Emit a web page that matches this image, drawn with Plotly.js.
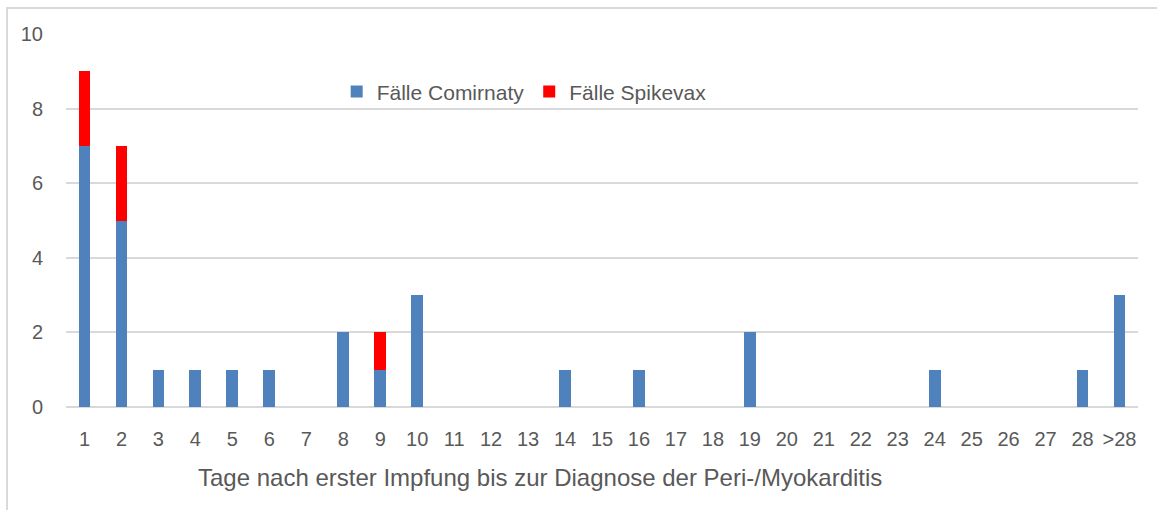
<!DOCTYPE html>
<html><head><meta charset="utf-8">
<script src="https://cdn.plot.ly/plotly-3.0.1.min.js"></script>
<style>html,body{margin:0;padding:0;background:#fff}#c{width:1157px;height:510px}</style>
</head><body><div id="c"></div>
<script>
const categories = ["1","2","3","4","5","6","7","8","9","10","11","12","13","14","15","16","17","18","19","20","21","22","23","24","25","26","27","28",">28"];
const comirnaty = [7,5,1,1,1,1,0,2,1,3,0,0,0,1,0,1,0,0,2,0,0,0,0,1,0,0,0,1,3];
const spikevax  = [2,2,0,0,0,0,0,0,1,0,0,0,0,0,0,0,0,0,0,0,0,0,0,0,0,0,0,0,0];
const yTicks = [0,2,4,6,8,10];
const xTitle = "Tage nach erster Impfung bis zur Diagnose der Peri-/Myokarditis";

const font = "Liberation Sans, Arial, sans-serif";
const data = [
  {type:"bar", name:"Fälle Comirnaty", x:categories, y:comirnaty, marker:{color:"#4f81bd"}},
  {type:"bar", name:"Fälle Spikevax", x:categories, y:spikevax, marker:{color:"#ff0000"}}
];
const layout = {
  width:1157, height:510,
  margin:{l:66, r:19, t:34, b:103},
  barmode:"stack", bargap:0.68,
  paper_bgcolor:"#fff", plot_bgcolor:"#fff",
  font:{family:font, color:"#595959", size:20},
  showlegend:true,
  legend:{orientation:"h", traceorder:"normal", x:0.2525, y:0.845, xanchor:"left", yanchor:"middle",
          font:{size:21, color:"#595959"}, itemwidth:30, tracegroupgap:0, bgcolor:"rgba(0,0,0,0)"},
  xaxis:{type:"category", tickvals:categories, ticktext:categories, showgrid:false, zeroline:false,
         showline:false, ticks:"", tickfont:{size:20}, ticklabelstandoff:18, fixedrange:true},
  yaxis:{range:[0,10], tickvals:yTicks, showgrid:true, gridcolor:"#d9d9d9", gridwidth:2,
         zeroline:true, zerolinecolor:"#d9d9d9", zerolinewidth:2, showline:false, ticks:"",
         ticklabelstandoff:22, tickfont:{size:20}, fixedrange:true},
  annotations:[{text:xTitle, xref:"paper", yref:"paper", x:0.442, y:-0.188, xanchor:"center", yanchor:"middle",
                showarrow:false, font:{size:24, color:"#595959"}}],
  shapes:[{type:"rect", xref:"paper", yref:"paper", x0:-0.055, x1:1.2, y0:-0.5, y1:1.0697,
           line:{color:"#d9d9d9", width:2}, layer:"below"}]
};
Plotly.newPlot("c", data, layout, {displayModeBar:false, staticPlot:true});
</script></body></html>
